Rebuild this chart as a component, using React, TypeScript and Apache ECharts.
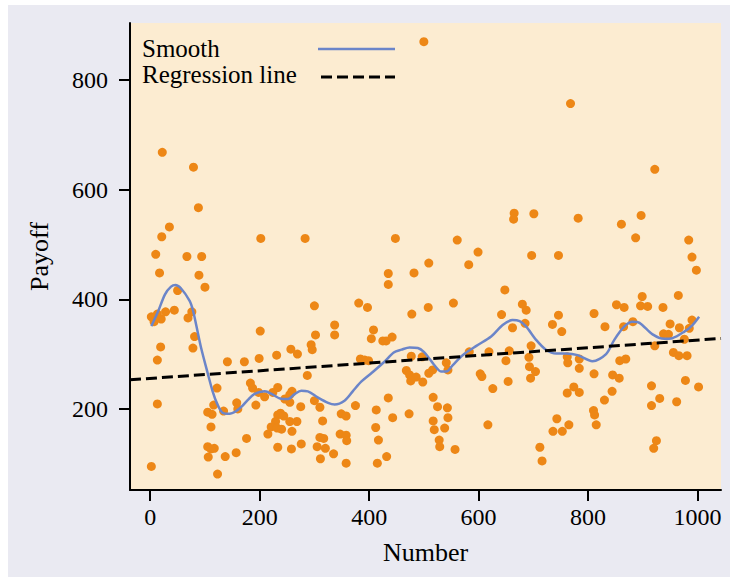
import React, { useEffect, useRef } from "react";
import * as echarts from "echarts";

// ---- data ----
const X_MIN = -37;
const X_MAX = 1043;
const Y_MIN = 52;
const Y_MAX = 904;
const X_TICKS = [0, 200, 400, 600, 800, 1000];
const Y_TICKS = [200, 400, 600, 800];

const REG_INTERCEPT = 255.6;
const REG_SLOPE = 0.0699;

const payoffPoints: [number, number][] = [
  [22, 668], [79, 641], [88, 567], [35, 532], [21, 514], [202, 511], [10, 482], [67, 478], [94, 478],
  [283, 511], [448, 511], [500, 870],
  [768, 757], [665, 557], [664, 546], [701, 556], [561, 508], [599, 486], [697, 480], [746, 480],
  [922, 637], [782, 548], [861, 537], [897, 553], [887, 512], [984, 508], [990, 477],
  [17, 448], [89, 444], [100, 422], [50, 416], [2, 368], [13, 373], [7, 359], [20, 364], [28, 377],
  [44, 380], [69, 366], [76, 377], [81, 332], [78, 311], [19, 313], [13, 289], [13, 209], [2, 95],
  [201, 342], [141, 286], [172, 286], [199, 292], [231, 298], [122, 238], [116, 207], [105, 194],
  [113, 190], [134, 196], [158, 211], [160, 200], [183, 247], [187, 238], [198, 230], [193, 207],
  [209, 222], [224, 230], [233, 239], [233, 189], [229, 177], [221, 167], [215, 154], [232, 165],
  [233, 130], [111, 167], [176, 146], [105, 131], [117, 128], [111, 127], [106, 112], [137, 113],
  [157, 120], [123, 81],
  [435, 447], [435, 427], [482, 448], [300, 388], [381, 393], [397, 385], [478, 373], [337, 353],
  [337, 335], [302, 335], [408, 344], [404, 328], [425, 324], [431, 324], [442, 331], [294, 317],
  [296, 308], [257, 309], [269, 300], [287, 261], [384, 291], [392, 289], [399, 288], [468, 270],
  [474, 262], [478, 256], [486, 258], [476, 251], [498, 249], [477, 296], [497, 295], [259, 232],
  [255, 226], [251, 218], [255, 212], [246, 218], [300, 215], [310, 203], [275, 204], [238, 192],
  [244, 187], [255, 177], [268, 177], [240, 163], [259, 159], [315, 178], [349, 191], [358, 187],
  [375, 206], [413, 198], [435, 220], [443, 184], [473, 191], [412, 166], [417, 143], [347, 154],
  [358, 152], [359, 142], [310, 148], [317, 146], [305, 131], [320, 128], [276, 136], [258, 127],
  [311, 109], [335, 118], [358, 101], [415, 101], [432, 113],
  [509, 466], [582, 463], [648, 417], [508, 385], [554, 393], [680, 391], [687, 380], [642, 372],
  [662, 348], [685, 356], [746, 371], [735, 354], [752, 341], [541, 284], [544, 271], [516, 271],
  [509, 265], [583, 304], [619, 304], [656, 306], [650, 288], [696, 315], [692, 294], [693, 277],
  [704, 268], [695, 256], [654, 250], [603, 264], [606, 259], [626, 237], [762, 295], [763, 284],
  [762, 229], [517, 221], [525, 204], [543, 202], [544, 184], [517, 178], [519, 162], [538, 165],
  [528, 143], [529, 131], [557, 126], [617, 171], [743, 182], [736, 159], [753, 159], [765, 171],
  [712, 130], [716, 105],
  [998, 453], [811, 374], [852, 390], [866, 385], [899, 405], [896, 388], [909, 387], [937, 385],
  [965, 407], [831, 350], [865, 350], [882, 359], [950, 355], [967, 348], [985, 347], [990, 362],
  [938, 337], [947, 336], [976, 327], [922, 315], [956, 303], [966, 297], [981, 297], [784, 291],
  [784, 274], [858, 288], [869, 291], [811, 264], [845, 262], [857, 256], [774, 240], [784, 230],
  [844, 232], [830, 216], [916, 242], [978, 252], [1002, 240], [931, 219], [916, 206], [962, 213],
  [810, 197], [812, 189], [815, 171], [925, 142], [920, 128],
];

const smoothCurve: [number, number][] = [
  [2, 351], [14, 377], [27, 409], [38, 423], [46, 426], [56, 420], [72, 397], [78, 380], [84, 353],
  [93, 311], [105, 265], [114, 232], [122, 210], [132, 193], [145, 191], [157, 196], [167, 204],
  [178, 216], [190, 227], [209, 232], [224, 226], [237, 219], [252, 218], [264, 227], [276, 233],
  [288, 232], [306, 221], [325, 211], [337, 208], [355, 215], [370, 232], [386, 250], [404, 265],
  [428, 286], [445, 303], [459, 308], [474, 312], [489, 311], [500, 304], [510, 292], [519, 280],
  [532, 268], [541, 268], [553, 280], [571, 298], [596, 315], [623, 332], [644, 353], [662, 362],
  [675, 360], [687, 350], [705, 326], [723, 308], [742, 301], [760, 301], [781, 298], [808, 287],
  [833, 300], [848, 326], [866, 350], [881, 359], [894, 357], [918, 336], [939, 328], [954, 329],
  [976, 341], [991, 353], [1003, 368],
];

const LEGEND_LABELS = ["Smooth", "Regression line"];

const FONT = "'Liberation Serif', 'DejaVu Serif', serif";

export default function App() {
  const ref = useRef<HTMLDivElement>(null);

  useEffect(() => {
    if (!ref.current) return;
    const chart = echarts.init(ref.current, null, { renderer: "svg" });

    const regLine: [number, number][] = [
      [X_MIN, REG_INTERCEPT + REG_SLOPE * X_MIN],
      [X_MAX, REG_INTERCEPT + REG_SLOPE * X_MAX],
    ];

    chart.setOption({
      animation: false,
      backgroundColor: "transparent",
      grid: {
        left: 130,
        right: 9,
        top: 23,
        bottom: 89,
        show: true,
        backgroundColor: "#fcecd1",
        borderWidth: 0,
        containLabel: false,
        outerBoundsMode: "none",
      },
      xAxis: {
        type: "value",
        min: X_MIN,
        max: X_MAX,
        name: "Number",
        nameLocation: "middle",
        nameGap: 49,
        nameTextStyle: { fontFamily: FONT, fontSize: 26, color: "#000" },
        axisLine: { show: true, onZero: false, lineStyle: { color: "#000", width: 2 } },
        axisTick: {
          show: true,
          length: 11,
          lineStyle: { color: "#000", width: 2 },
          customValues: X_TICKS,
        },
        axisLabel: {
          customValues: X_TICKS,
          formatter: (v: number) => String(v),
          fontFamily: FONT,
          fontSize: 24,
          color: "#000",
          margin: 15,
        },
        splitLine: { show: false },
      },
      yAxis: {
        type: "value",
        min: Y_MIN,
        max: Y_MAX,
        name: "Payoff",
        nameLocation: "middle",
        nameGap: 78,
        nameRotate: 90,
        nameTextStyle: { fontFamily: FONT, fontSize: 26, color: "#000" },
        axisLine: { show: true, onZero: false, lineStyle: { color: "#000", width: 2 } },
        axisTick: {
          show: true,
          length: 11,
          lineStyle: { color: "#000", width: 2 },
          customValues: Y_TICKS,
        },
        axisLabel: {
          customValues: Y_TICKS,
          formatter: (v: number) => String(v),
          fontFamily: FONT,
          fontSize: 24,
          color: "#000",
          margin: 22,
        },
        splitLine: { show: false },
      },
      graphic: [
        {
          type: "text",
          left: 142,
          top: 36,
          style: { text: LEGEND_LABELS[0], font: `25px ${FONT}`, fill: "#000" },
        },
        {
          type: "text",
          left: 142,
          top: 62,
          style: { text: LEGEND_LABELS[1], font: `25px ${FONT}`, fill: "#000" },
        },
        {
          type: "line",
          shape: { x1: 318, y1: 49, x2: 395, y2: 49 },
          style: { stroke: "#6b85c9", lineWidth: 2.5 },
        },
        {
          type: "line",
          shape: { x1: 321, y1: 77, x2: 395, y2: 77 },
          style: { stroke: "#000", lineWidth: 3, lineDash: [11, 5] },
        },
      ],
      series: [
        {
          type: "scatter",
          data: payoffPoints,
          symbolSize: 9,
          itemStyle: { color: "#ed8716", opacity: 1 },
          z: 2,
        },
        {
          type: "line",
          name: LEGEND_LABELS[0],
          data: smoothCurve,
          smooth: 0.3,
          showSymbol: false,
          lineStyle: { color: "#6b85c9", width: 2.5 },
          z: 3,
        },
        {
          type: "line",
          name: LEGEND_LABELS[1],
          data: regLine,
          showSymbol: false,
          lineStyle: { color: "#000", width: 3, type: [11, 5] },
          z: 4,
        },
      ],
    });

    return () => chart.dispose();
  }, []);

  return (
    <div style={{ position: "absolute", left: 0, top: 0, width: 730, height: 579, background: "#fff" }}>
      <div style={{ position: "absolute", left: 8, top: 5, width: 722, height: 572, background: "#eaeaf2" }} />
      <div ref={ref} style={{ position: "absolute", left: 0, top: 0, width: 730, height: 579 }} />
    </div>
  );
}
